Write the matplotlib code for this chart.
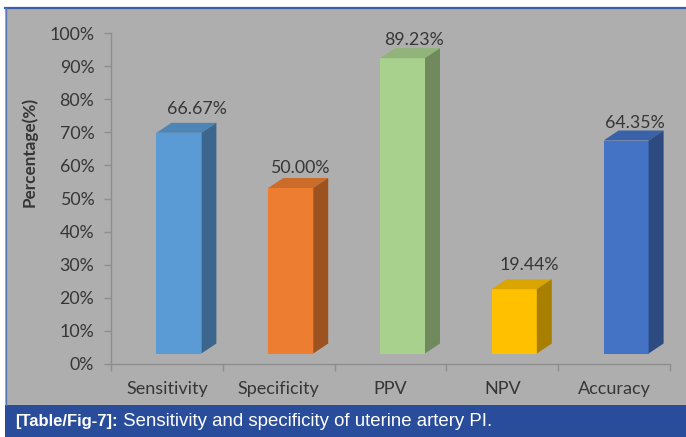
import matplotlib
matplotlib.use("Agg")
import matplotlib.pyplot as plt
from matplotlib.patches import Polygon, Rectangle
from matplotlib.lines import Line2D
import matplotlib.colors as mcolors

# ---- data ----
categories = ["Sensitivity", "Specificity", "PPV", "NPV", "Accuracy"]
values = [66.67, 50.00, 89.23, 19.44, 64.35]
y_ticks = [0, 10, 20, 30, 40, 50, 60, 70, 80, 90, 100]
y_tick_labels = [f"{t}%" for t in y_ticks]
caption_bold = "[Table/Fig-7]:"
caption_text = " Sensitivity and specificity of uterine artery PI."

# ---- style ----
front_colors = ["#5b9bd5", "#ed7d31", "#a9d18e", "#ffc000", "#4472c4"]
bg_gray = "#aeaeae"
band_blue = "#2a4d9b"
text_gray = "#363636"
axis_gray = "#8e8e8e"
FONT = "Lato"

W, H = 686, 437
fig = plt.figure(figsize=(W / 100, H / 100), dpi=100)
fig.patch.set_facecolor("white")

# framed grey panel and the caption band (behind the axes)
fig.patches.append(Rectangle((5 / W, 32 / H), 681 / W, 397 / H,
                             transform=fig.transFigure, facecolor=bg_gray,
                             edgecolor="none", zorder=-10))
fig.patches.append(Rectangle((5 / W, 0), 681 / W, 32 / H,
                             transform=fig.transFigure, facecolor=band_blue,
                             edgecolor="none", zorder=-10))
fig.lines.append(Line2D([5 / W, 1], [(H - 7.5) / H] * 2, transform=fig.transFigure,
                        color="#3d5da6", lw=1.6, zorder=-9))
fig.lines.append(Line2D([5.5 / W] * 2, [32 / H, (H - 7.5) / H], transform=fig.transFigure,
                        color="#5a78b8", lw=1.0, zorder=-9))

ax = fig.add_axes([111 / W, (H - 364) / H, 559 / W, 331 / H])
ax.set_xlim(-0.5, len(categories) - 0.5)
ax.set_ylim(0, 100)
ax.patch.set_alpha(0)

# pixel -> data unit conversion for the 3-D depth effect
sx = (len(categories)) / 559.0
sy = 100.0 / 331.0
face_w = 45       # front face width, px
face_shift = 12   # front face shift from category centre, px
lift = 10.5       # front face raised above the floor, px
depth_x, depth_y = 15, 10

def shade(c, f):
    r, g, b = mcolors.to_rgb(c)
    return (r * f, g * f, b * f)

label_dx = [18, 9, 11.5, 14.5, 9]     # px, label centre right of the front face centre
label_dy = [24, 20, 18.5, 24.5, 18]   # px, label centre above the front face top

for i, (v, c) in enumerate(zip(values, front_colors)):
    xc = i + face_shift * sx
    xl = xc - face_w / 2 * sx
    xr = xc + face_w / 2 * sx
    yb = lift * sy
    yt = v + lift * sy
    ddx, ddy = depth_x * sx, depth_y * sy
    ax.bar(xc, v, width=face_w * sx, bottom=yb, color=c, edgecolor="none",
           zorder=3, clip_on=False)
    ax.add_patch(Polygon([(xl, yt), (xr, yt), (xr + ddx, yt + ddy), (xl + ddx, yt + ddy)],
                         closed=True, facecolor=shade(c, 0.86), edgecolor="none",
                         zorder=3, clip_on=False))
    ax.add_patch(Polygon([(xr, yb), (xr, yt), (xr + ddx, yt + ddy), (xr + ddx, yb + ddy)],
                         closed=True, facecolor=shade(c, 0.66), edgecolor="none",
                         zorder=3, clip_on=False))
    ax.text(xc + label_dx[i] * sx, yt + label_dy[i] * sy, f"{v:.2f}%",
            ha="center", va="center", fontsize=12.8, family=FONT,
            color=text_gray, zorder=4, clip_on=False)

# axes styling
for s in ["top", "right"]:
    ax.spines[s].set_visible(False)
for s in ["left", "bottom"]:
    ax.spines[s].set_color(axis_gray)
    ax.spines[s].set_linewidth(1.0)

ax.set_yticks(y_ticks)
ax.set_yticklabels(y_tick_labels, family=FONT, fontsize=12.8, color=text_gray)
ax.tick_params(axis="y", length=5, width=1.0, color=axis_gray, pad=7)

ax.set_xticks(range(len(categories)))
ax.set_xticklabels(categories, family=FONT, fontsize=13, color=text_gray)
ax.set_xticks([k - 0.5 for k in range(len(categories) + 1)], minor=True)
ax.tick_params(axis="x", which="major", length=0, pad=12)
ax.tick_params(axis="x", which="minor", length=5, width=1.0, color=axis_gray)

fig.text(29 / W, (H - 152) / H, "Percentage(%)", rotation=90, ha="center", va="center",
         family=FONT, fontweight="bold", fontsize=12.3, color=text_gray)

# caption
cap_y = 15.5 / H
t1 = fig.text(15 / W, cap_y, caption_bold, ha="left", va="center", color="white",
              family="Liberation Sans", fontweight="bold", fontsize=12)
fig.canvas.draw()
bb = t1.get_window_extent(renderer=fig.canvas.get_renderer())
fig.text(bb.x1 / W, cap_y, caption_text, ha="left", va="center", color="white",
         family="Liberation Sans", fontsize=13.4)

fig.savefig("out.png", dpi=100, facecolor=fig.get_facecolor())
